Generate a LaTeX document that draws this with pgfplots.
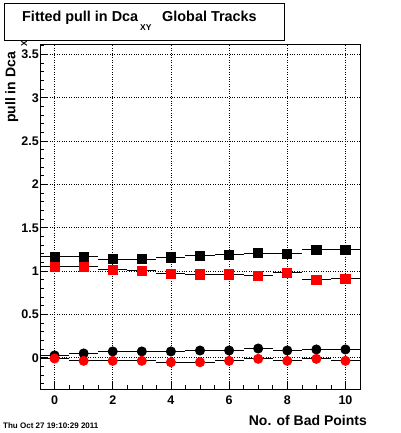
\documentclass[border=0pt]{standalone}
\usepackage{pgfplots}
\pgfplotsset{compat=1.18}
\usepackage{fontspec}
\setmainfont{Liberation Sans}
\begin{document}
\begin{tikzpicture}[x=1pt,y=1pt]
\useasboundingbox (0,0) rectangle (400,433);
\begin{axis}[at={(40pt,44pt)}, anchor=south west, scale only axis,
  width=320pt, height=345pt,
  xmin=-0.5, xmax=10.5, ymin=-0.36, ymax=3.62,
  xtick={0,2,...,10}, ytick={0,0.5,...,3.5},
  minor xtick={0,0.5,...,10}, minor ytick={-0.3,-0.2,...,3.6},
  tick align=inside, xtick pos=left, ytick pos=left,
  major tick length=8pt, minor tick length=4pt,
  grid=major, grid style={dotted, black, line width=0.6pt},
  axis line style={line width=0.8pt},
  tick style={black, line width=0.6pt},
  ticklabel style={font=\fontsize{12.5}{12.5}\selectfont\bfseries},
  /pgf/number format/assume math mode=true,
  yticklabel style={inner sep=1pt},
  xticklabel style={yshift=-3pt},
  clip=true]
% black squares
\addplot[black, line width=0.8pt, mark=square*, mark size=4.6pt, only marks,
  error bars/.cd, x dir=both, x fixed=0.5, error mark=none,
  error bar style={line width=0.8pt, black}]
  coordinates {(0,1.165) (1,1.165) (2,1.137) (3,1.137) (4,1.157) (5,1.18) (6,1.19) (7,1.21) (8,1.20) (9,1.245) (10,1.245)};
% red squares
\addplot[red, line width=0.8pt, mark=square*, mark size=4.6pt, only marks,
  error bars/.cd, x dir=both, x fixed=0.5, error mark=none,
  error bar style={line width=0.8pt, black}]
  coordinates {(0,1.053) (1,1.05) (2,1.015) (3,1.003) (4,0.972) (5,0.961) (6,0.961) (7,0.949) (8,0.980) (9,0.900) (10,0.911)};
% black circles
\addplot[black, line width=0.8pt, mark=*, mark size=4.6pt, only marks,
  error bars/.cd, x dir=both, x fixed=0.5, error mark=none,
  error bar style={line width=0.8pt, black}]
  coordinates {(0,0.027) (1,0.05) (2,0.073) (3,0.073) (4,0.073) (5,0.084) (6,0.084) (7,0.107) (8,0.084) (9,0.096) (10,0.096)};
% red circles
\addplot[red, line width=0.8pt, mark=*, mark size=4.6pt, only marks,
  error bars/.cd, x dir=both, x fixed=0.5, error mark=none,
  error bar style={line width=0.8pt, black}]
  coordinates {(0,-0.008) (1,-0.035) (2,-0.035) (3,-0.035) (4,-0.051) (5,-0.051) (6,-0.035) (7,-0.012) (8,-0.035) (9,-0.012) (10,-0.035)};
\end{axis}
% y label
\node[rotate=90, anchor=base west, inner sep=0pt, font=\fontsize{14}{14}\selectfont\bfseries] at (15.5,310) {pull in Dca};
\node[rotate=90, anchor=base west, inner sep=0pt, font=\fontsize{8.5}{8.5}\selectfont\bfseries] at (27,386) {XY};
% title box
\draw[line width=0.8pt, fill=white] (4.5,393) rectangle (284.5,430);
\node[anchor=base west, inner sep=0pt, font=\fontsize{14.4}{14.4}\selectfont\bfseries] at (22,411) {Fitted pull in Dca};
\node[anchor=base west, inner sep=0pt, font=\fontsize{8.5}{8.5}\selectfont\bfseries] at (140,402) {XY};
\node[anchor=base west, inner sep=0pt, font=\fontsize{14.4}{14.4}\selectfont\bfseries] at (162,411) {Global Tracks};
% x label
\node[anchor=base east, inner sep=0pt, font=\fontsize{14}{14}\selectfont\bfseries] at (367,8) {No. of Bad Points};
% date
\node[anchor=base west, inner sep=0pt, font=\fontsize{8}{8}\selectfont\bfseries] at (3,5) {Thu Oct 27 19:10:29 2011};
\end{tikzpicture}
\end{document}
